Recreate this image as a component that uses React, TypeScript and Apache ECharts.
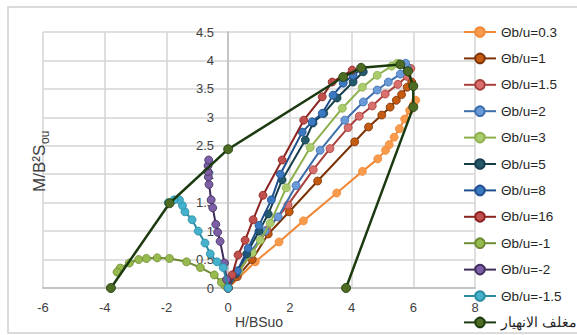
import React, { useEffect, useRef } from "react";
import * as echarts from "echarts";

const xTicks = { min: -6, max: 8, interval: 2 };
const yTicks = { min: 0, max: 4.5, interval: 0.5 };

const seriesNames = [
  "Θb/u=0.3", "Θb/u=1", "Θb/u=1.5", "Θb/u=2", "Θb/u=3", "Θb/u=5",
  "Θb/u=8", "Θb/u=16", "Θb/u=-1", "Θb/u=-2", "Θb/u=-1.5", "مغلف الانهيار",
];

const s03 = [[0,0],[0.88,0.46],[1.65,0.81],[2.44,1.18],[3.52,1.67],[4.35,2.05],[4.85,2.27],[5.1,2.42],[5.22,2.52],[5.38,2.65],[5.55,2.8],[5.72,2.97],[5.88,3.12],[6.0,3.22],[6.08,3.3]];
const s1 = [[0,0],[0.3,0.2],[0.78,0.5],[1.3,0.95],[1.98,1.34],[2.9,1.88],[4.1,2.57],[4.55,2.83],[4.98,3.04],[5.25,3.18],[5.45,3.3],[5.62,3.4],[5.8,3.53],[5.95,3.62]];
const s15 = [[0,0],[0.3,0.25],[0.75,0.6],[1.26,1.02],[1.94,1.46],[2.76,2.08],[3.3,2.45],[3.89,2.82],[4.25,3.02],[4.67,3.2],[5.09,3.41],[5.5,3.58],[5.8,3.72],[5.92,3.86]];
const s2 = [[0,0],[0.3,0.3],[0.7,0.6],[1.2,1.0],[1.62,1.25],[2.2,1.8],[2.98,2.42],[3.78,2.95],[4.38,3.27],[4.83,3.48],[5.19,3.62],[5.58,3.76],[5.8,3.88],[5.75,3.95]];
const s3 = [[0,0],[0.35,0.3],[0.78,0.62],[1.04,0.84],[1.36,1.14],[1.88,1.76],[2.66,2.47],[3.7,3.16],[4.35,3.53],[4.83,3.74],[5.3,3.9],[5.48,3.95]];
const s5 = [[0,0],[0.25,0.25],[0.6,0.6],[1.0,1.0],[1.3,1.3],[1.75,1.9],[2.5,2.6],[2.75,2.9],[3.1,3.07],[3.53,3.34],[4.05,3.62],[4.38,3.8]];
const s8 = [[0,0],[0.3,0.3],[0.65,0.7],[1.0,1.1],[1.4,1.55],[1.69,2.0],[2.4,2.74],[2.72,2.92],[3.05,3.07],[3.4,3.39],[3.73,3.6],[4.05,3.74],[4.34,3.85]];
const s16 = [[0,0],[0.13,0.23],[0.32,0.58],[0.55,0.84],[0.81,1.2],[1.13,1.63],[1.75,2.25],[2.45,2.95],[3.05,3.36],[3.37,3.62],[4.02,3.83]];
const sm1 = [[0,0],[-0.1,0.04],[-0.22,0.1],[-0.45,0.23],[-0.9,0.36],[-1.35,0.46],[-1.9,0.52],[-2.3,0.53],[-2.65,0.52],[-2.9,0.5],[-3.2,0.44],[-3.5,0.35],[-3.6,0.28]];
const sm2 = [[0,0],[-0.05,0.15],[-0.12,0.44],[-0.26,0.82],[-0.34,0.98],[-0.4,1.12],[-0.5,1.41],[-0.55,1.55],[-0.62,1.82],[-0.64,1.95],[-0.66,2.05],[-0.65,2.15],[-0.63,2.25]];
const sm15 = [[0,0],[-0.16,0.36],[-0.36,0.46],[-0.58,0.6],[-0.75,0.79],[-0.97,1.0],[-1.17,1.2],[-1.4,1.34],[-1.48,1.45],[-1.58,1.55],[-1.75,1.55],[-1.94,1.5]];
const envelope = [[-3.8,0],[-1.9,1.49],[0,2.44],[3.73,3.71],[4.31,3.87],[5.58,3.93],[5.83,3.81],[6.0,3.55],[6.0,3.18],[3.82,0]];

const seriesData = [s03, s1, s15, s2, s3, s5, s8, s16, sm1, sm2, sm15, envelope];

const lineColors = ["#F08836", "#7B3306", "#A8403C", "#3E6FAD", "#8DB04D", "#163E4A", "#1F4E8C", "#8B2320", "#6E8B33", "#3F2D5C", "#2A8BA3", "#1B3A0F"];
const markerColors = ["#F89B4C", "#C55A11", "#D9706D", "#6A9BD8", "#AACC6C", "#24596A", "#3A78C0", "#C0504D", "#97BA4F", "#7D5FA5", "#45B1CD", "#4D6B22"];

const FONT = "Liberation Sans, Arial, sans-serif";

export default function App() {
  const ref = useRef<HTMLDivElement>(null);
  useEffect(() => {
    document.body.style.margin = "0";
    const chart = echarts.init(ref.current!, null, { renderer: "svg" });
    const series = seriesNames.map((name, i) => ({
      name,
      type: "line",
      data: seriesData[i],
      symbol: "circle",
      symbolSize: i === 11 ? 9 : 8,
      showSymbol: true,
      lineStyle: { color: lineColors[i], width: i === 11 ? 2.5 : 2 },
      itemStyle: { color: markerColors[i], borderColor: lineColors[i], borderWidth: 0.8 },
      emphasis: { disabled: true },
      z: 2 + i,
    }));
    chart.setOption({
      animation: false,
      backgroundColor: "#ffffff",
      textStyle: { fontFamily: FONT },
      grid: { left: 43, right: 102, top: 32, bottom: 47, containLabel: false },
      xAxis: {
        type: "value",
        min: xTicks.min,
        max: xTicks.max,
        interval: xTicks.interval,
        axisLine: { show: true, onZero: false, lineStyle: { color: "#c4c4c4", width: 2 } },
        axisTick: { show: false },
        axisLabel: { color: "#404040", fontSize: 13, margin: 13, fontFamily: FONT },
        splitLine: { show: true, lineStyle: { color: "#d4d4d4", width: 1.5 } },
      },
      yAxis: {
        type: "value",
        position: "left",
        offset: -185,
        min: yTicks.min,
        max: yTicks.max,
        interval: yTicks.interval,
        axisLine: { show: true, onZero: false, lineStyle: { color: "#c4c4c4", width: 2 } },
        axisTick: { show: false },
        axisLabel: { color: "#404040", fontSize: 13, margin: 14, fontFamily: FONT },
        splitLine: { show: true, lineStyle: { color: "#d4d4d4", width: 1.5 } },
      },
      legend: {
        orient: "vertical",
        left: 463,
        top: 25,
        height: 320,
        itemWidth: 32,
        itemHeight: 12,
        itemGap: 12.4,
        padding: 0,
        textStyle: { color: "#262626", fontSize: 13.5, fontFamily: FONT },
        data: seriesNames,
      },
      graphic: [
        {
          type: "rect",
          shape: { x: 8, y: 7, width: 580, height: 326 },
          style: { fill: "none", stroke: "#cfcfcf", lineWidth: 1.5 },
          silent: true,
          z: -10,
        },
        {
          type: "text",
          x: 259,
          y: 322,
          style: {
            text: "H/BSuo",
            fill: "#404040",
            font: `14px ${FONT}`,
            align: "center",
            verticalAlign: "middle",
          },
          z: 20,
        },
        {
          type: "text",
          x: 39,
          y: 192,
          rotation: Math.PI / 2,
          style: {
            text: "M/B²S",
            fill: "#404040",
            font: `17px ${FONT}`,
            align: "left",
            verticalAlign: "middle",
          },
          z: 20,
        },
        {
          type: "text",
          x: 45,
          y: 144,
          rotation: Math.PI / 2,
          style: {
            text: "ou",
            fill: "#404040",
            font: `12px ${FONT}`,
            align: "left",
            verticalAlign: "middle",
          },
          z: 20,
        },
      ],
      series,
    });
    return () => chart.dispose();
  }, []);
  return <div ref={ref} style={{ width: 577, height: 335 }} />;
}
